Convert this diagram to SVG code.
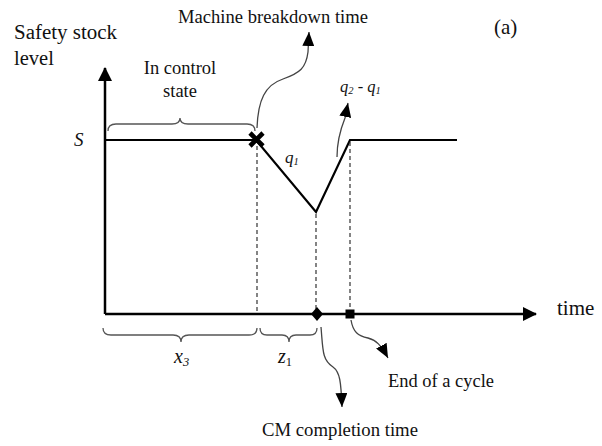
<svg xmlns="http://www.w3.org/2000/svg" width="602" height="446" viewBox="0 0 602 446">
<style>
text{font-family:"Liberation Serif","Times New Roman",serif;fill:#111;font-size:18.5px}
.big{font-size:20.5px}
.it{font-style:italic}
.axis{stroke:#000;stroke-width:2.5;fill:none}
.line{stroke:#000;stroke-width:2.2;fill:none}
.dash{stroke:#333;stroke-width:1.2;stroke-dasharray:4 3;fill:none}
.brace{stroke:#555;stroke-width:1.3;fill:none}
.call{stroke:#444;stroke-width:1.3;fill:none;marker-end:url(#ah)}
</style>
<defs>
<marker id="ah" markerUnits="userSpaceOnUse" viewBox="0 0 14 12" refX="14" refY="6" markerWidth="14" markerHeight="12" orient="auto">
<path d="M0,0 L14,6 L0,12 z" fill="#000"/>
</marker>
<marker id="ax" markerUnits="userSpaceOnUse" viewBox="0 0 14 14" refX="13" refY="7" markerWidth="14" markerHeight="14" orient="auto">
<path d="M0,0 L14,7 L0,14 z" fill="#000"/>
</marker>
</defs>
<g id="connectors">
<path class="axis" d="M105,314 L105,68" marker-end="url(#ax)"/>
<path class="axis" d="M105,314 L536,314" marker-end="url(#ax)"/>
<path class="line" d="M105,140 L256,140 L316,212 L350,140 L457,140"/>
<path class="dash" d="M257,146 L257,314"/>
<path class="dash" d="M316,214 L316,314"/>
<path class="dash" d="M350,142 L350,314"/>
<path class="brace" d="M108,131 Q108,124 116,124 L172,124 Q180,124 180,118 Q180,124 188,124 L247,124 Q255,124 255,131"/>
<path class="brace" d="M103,328 Q103,335 111,335 L173,335 Q181,335 181,342 Q181,335 189,335 L249,335 Q257,335 257,328"/>
<path class="brace" d="M260,328 Q260,335 267,335 L282,335 Q289,335 289,342 Q289,335 296,335 L310,335 Q317,335 317,328"/>
<path class="call" d="M257,128 C258,100 265,85 283,79 C300,73 306,68 308,52 L309,32"/>
<path class="call" d="M337,157 C337,140 341,128 345,118 L348,103"/>
<path class="call" d="M321,327 C323,350 322,360 333,367 C340,372 341,382 342,407"/>
<path class="call" d="M351,320 C353,332 358,336 368,338 C376,340 381,345 388,358"/>
</g>
<g id="markers">
<path d="M250,133 L263,146 M263,133 L250,146" stroke="#000" stroke-width="4.6" fill="none"/>
<path d="M317,307 L323,314 L317,321 L311,314 z" fill="#000"/>
<rect x="345.5" y="309.5" width="9" height="9" fill="#000"/>
</g>
<g id="labels">
<text class="big" x="14" y="39" textLength="103" lengthAdjust="spacingAndGlyphs">Safety stock</text>
<text class="big" x="14" y="65">level</text>
<text x="178" y="23" textLength="190" lengthAdjust="spacingAndGlyphs">Machine breakdown time</text>
<text x="494" y="34" style="font-size:21px">(a)</text>
<text x="180" y="74" text-anchor="middle">In control</text>
<text x="180" y="97" text-anchor="middle">state</text>
<text class="it" x="74" y="146" style="font-size:19px">S</text>
<text class="it" x="285" y="163" style="font-size:17px">q<tspan font-size="10.5" dy="2">1</tspan></text>
<text class="it" x="340" y="92" style="font-size:16.5px">q<tspan font-size="10.5" dy="2">2</tspan><tspan dy="-2"> - q</tspan><tspan font-size="10.5" dy="2">1</tspan></text>
<text x="557" y="315" style="font-size:21px">time</text>
<text class="it" x="174" y="363" style="font-size:20px">x<tspan font-size="12.5" dy="3">3</tspan></text>
<text class="it" x="278" y="363" style="font-size:20px">z<tspan font-size="12.5" dy="3" font-style="normal">1</tspan></text>
<text x="388" y="387" textLength="106" lengthAdjust="spacingAndGlyphs">End of a cycle</text>
<text x="262" y="436" textLength="156" lengthAdjust="spacingAndGlyphs">CM completion time</text>
</g>
</svg>
